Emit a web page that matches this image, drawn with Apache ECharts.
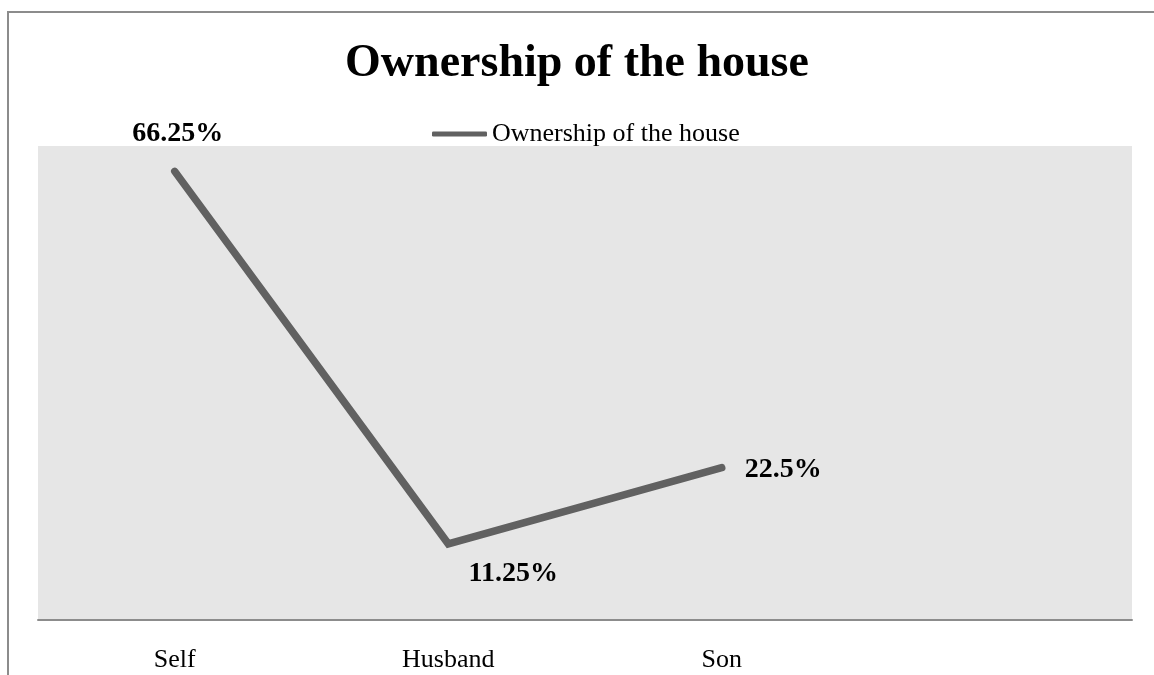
<!DOCTYPE html>
<html>
<head>
<meta charset="utf-8">
<style>
  html, body { margin: 0; padding: 0; background: #fff; }
  #frame { position: absolute; left: 7px; top: 11px; width: 1160px; height: 680px;
           border-left: 2px solid #8c8c8c; border-top: 2px solid #8c8c8c; }
  #chart { position: absolute; left: 0; top: 0; width: 1154px; height: 675px; }
</style>
<script src="https://cdn.jsdelivr.net/npm/echarts@6/dist/echarts.min.js"></script>
</head>
<body>
<div id="frame"></div>
<div id="chart"></div>
<script>
// Who holds the ownership of the house (% of respondents)
const categories = ['Self', 'Husband', 'Son', ''];
const ownershipValues = [66.25, 11.25, 22.5];
const seriesName = 'Ownership of the house';

// Where each value label sits relative to its point
const labelPlacement = [
  { position: 'top', distance: 24, offset: [3, 0] },
  { position: 'bottom', distance: 16, offset: [65, 0] },
  { position: 'right', distance: 23, offset: [0, 2] }
];

const serif = '"Liberation Serif", "Times New Roman", serif';
const lineColor = '#616161';

const chart = echarts.init(document.getElementById('chart'), null, { renderer: 'canvas' });

chart.setOption({
  animation: false,
  title: {
    text: 'Ownership of the house',
    left: 'center',
    top: 36,
    textStyle: { fontFamily: serif, fontWeight: 'bold', fontSize: 46, color: '#000' }
  },
  legend: {
    data: [{ name: seriesName, icon: 'roundRect' }],
    left: 427,
    top: 116,
    itemWidth: 55,
    itemHeight: 5,
    textStyle: { fontFamily: serif, fontSize: 26, color: '#000' },
    itemStyle: { color: lineColor, borderWidth: 0 }
  },
  grid: { left: 38, right: 22, top: 146, bottom: 55, show: true, backgroundColor: '#e6e6e6', borderWidth: 0 },
  xAxis: {
    type: 'category',
    data: categories,
    boundaryGap: true,
    axisLine: { show: true, lineStyle: { color: '#8c8c8c', width: 2 } },
    axisTick: { show: false },
    axisLabel: { fontFamily: serif, fontSize: 26, color: '#000', margin: 27 },
    splitLine: { show: false }
  },
  yAxis: {
    type: 'value',
    min: 0,
    max: 70,
    show: false,
    splitLine: { show: false }
  },
  series: [{
    name: seriesName,
    type: 'line',
    data: ownershipValues.map((v, i) => ({
      value: v,
      label: {
        show: true,
        position: labelPlacement[i].position,
        distance: labelPlacement[i].distance,
        offset: labelPlacement[i].offset
      }
    })),
    showSymbol: true,
    symbol: 'circle',
    symbolSize: 0.1,
    lineStyle: { width: 7.5, color: lineColor, cap: 'round', join: 'miter' },
    itemStyle: { color: lineColor },
    label: {
      formatter: p => p.value + '%',
      fontFamily: serif,
      fontWeight: 'bold',
      fontSize: 28,
      color: '#000'
    }
  }]
});
</script>
</body>
</html>
